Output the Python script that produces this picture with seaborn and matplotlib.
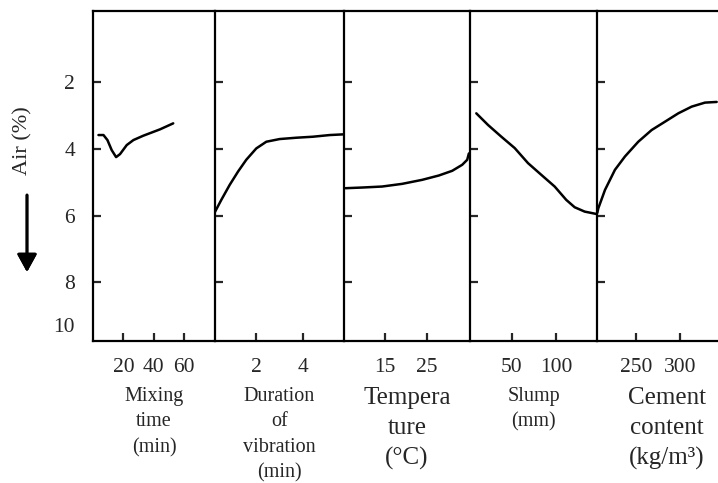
import matplotlib
matplotlib.use("Agg")
import matplotlib.pyplot as plt
import seaborn as sns

# ==========================================
# DATA
# ==========================================
mix_time = [3.6, 6.9, 9.5, 12.3, 15.2, 17.8, 22.2, 26.6, 33.1, 44.1, 52.8]
mix_air = [3.59, 3.59, 3.74, 4.04, 4.25, 4.16, 3.89, 3.74, 3.61, 3.42, 3.24]

vib_time = [0.23, 0.51, 0.87, 1.23, 1.58, 2.01, 2.44, 3.01, 3.73, 4.44, 5.16, 5.73]
vib_air = [5.90, 5.53, 5.08, 4.68, 4.33, 3.99, 3.79, 3.71, 3.67, 3.64, 3.59, 3.57]

temp_c = [5.5, 9.5, 14.3, 19.1, 23.9, 27.9, 31.1, 33.5, 34.7, 35.1]
temp_air = [5.18, 5.16, 5.13, 5.05, 4.93, 4.80, 4.66, 4.48, 4.33, 4.14]

slump_mm = [10.0, 23.3, 38.3, 53.4, 68.4, 83.4, 98.5, 111.6, 121.1, 132.4, 145.5]
slump_air = [2.94, 3.29, 3.64, 3.98, 4.43, 4.78, 5.13, 5.53, 5.75, 5.88, 5.95]

cement = [206.0, 207.2, 214.8, 226.1, 237.5, 252.6, 267.8, 283.0, 298.1, 313.3, 328.4, 341.7]
cement_air = [5.92, 5.78, 5.23, 4.63, 4.23, 3.79, 3.44, 3.19, 2.94, 2.74, 2.62, 2.60]

x_limits = [(0, 80.3), (0.24, 5.77), (5.16, 35.37), (2.9, 146.3), (205.7, 343.2)]
x_ticks = [[20, 40, 60], [2, 4], [15, 25], [50, 100], [250, 300]]
x_labels = ["Mixing\ntime\n(min)", "Duration\nof\nvibration\n(min)",
            "Tempera\nture\n(°C)", "Slump\n(mm)", "Cement\ncontent\n(kg/m³)"]
label_sizes = [14.5, 14.5, 18, 14.5, 18]

y_ticks = [2, 4, 6, 8, 9.27]
y_tick_labels = ["2", "4", "6", "8", "10"]

# ==========================================
# STYLE
# ==========================================
sns.set_style("white")
plt.rcParams['font.family'] = ['Liberation Serif', 'DejaVu Serif']

fig, axes = plt.subplots(1, 5, figsize=(7.18, 4.83), dpi=100,
                         gridspec_kw={'width_ratios': [122, 129, 126, 127, 121]})
fig.subplots_adjust(left=93 / 718, right=1.0, top=1 - 11 / 483, bottom=1 - 341 / 483, wspace=0)

series = [(mix_time, mix_air), (vib_time, vib_air), (temp_c, temp_air),
          (slump_mm, slump_air), (cement, cement_air)]

for i, ax in enumerate(axes):
    xs, ys = series[i]
    sns.lineplot(x=xs, y=ys, ax=ax, color='black', lw=1.8)

    ax.set_xlim(*x_limits[i])
    ax.set_ylim(9.75, -0.12)
    ax.set_xticks(x_ticks[i])
    ax.set_xticklabels([str(t) for t in x_ticks[i]])

    for side in ['left', 'top', 'bottom']:
        ax.spines[side].set_visible(True)
        ax.spines[side].set_color('black')
        ax.spines[side].set_linewidth(1.6)
    ax.spines['right'].set_visible(False)

    ax.tick_params(axis='x', direction='in', length=6, width=1.6, pad=12.5,
                   labelsize=15.5, bottom=True, top=False)
    if i == 0:
        ax.set_yticks(y_ticks)
        ax.set_yticklabels(y_tick_labels)
        ax.tick_params(axis='y', direction='in', length=6, width=1.6, pad=13,
                       labelsize=15.5, left=True, right=False)
        ax.yaxis.get_major_ticks()[-1].tick1line.set_visible(False)
    else:
        ax.set_yticks(y_ticks[:4])
        ax.tick_params(axis='y', direction='in', length=6, width=1.6,
                       left=True, right=False, labelleft=False)

    ax.set_xlabel(x_labels[i], fontsize=label_sizes[i], linespacing=1.45)
    ax.xaxis.set_label_coords(0.5, -0.14)
    ax.set_ylabel("")

axes[4].xaxis.set_label_coords(0.58, -0.14)

# Y axis title with downward arrow
fig.text(23 / 718, 1 - 141 / 483, "Air (%)", rotation=90, ha='center', va='center', fontsize=16)
fig.add_artist(plt.annotate("", xy=(27 / 718, 1 - 272 / 483), xytext=(27 / 718, 1 - 195 / 483),
                            xycoords='figure fraction', textcoords='figure fraction',
                            arrowprops=dict(arrowstyle='-|>,head_length=0.6,head_width=0.33',
                                            color='black', lw=2, mutation_scale=18,
                                            shrinkA=0, shrinkB=0)))

fig.savefig("out.png", dpi=100)
